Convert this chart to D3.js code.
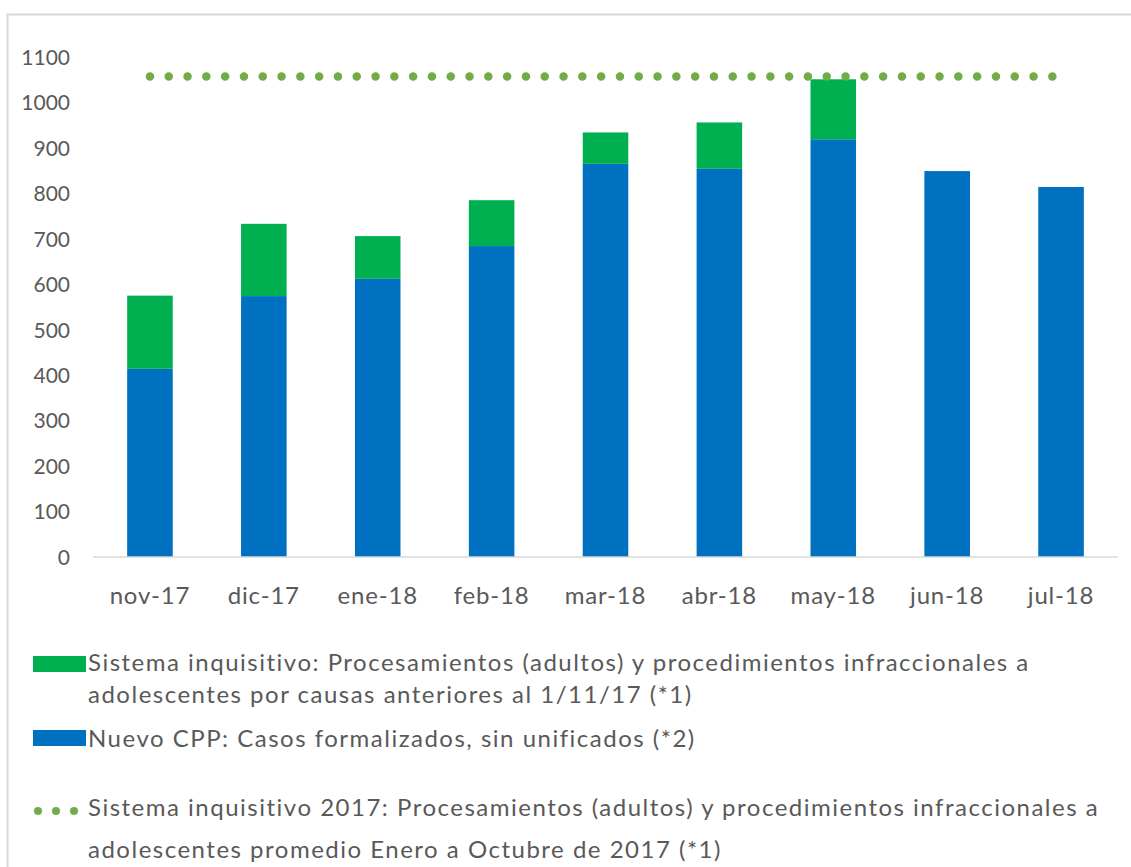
<!DOCTYPE html>
<html>
<head>
  <meta charset="utf-8">
  <script src="https://d3js.org/d3.v7.min.js"></script>
  <style>
    body { margin: 0; background: #fff; }
    text { font-family: Lato, "Open Sans", sans-serif; fill: #595959; }
  </style>
</head>
<body>
<script>
  "use strict";

  // data
  var months = ["nov-17", "dic-17", "ene-18", "feb-18", "mar-18", "abr-18", "may-18", "jun-18", "jul-18"];
  var nuevoCPP = [414, 574, 612, 684, 865, 854, 919, 849, 814];
  var inquisitivo = [161, 159, 94, 101, 69, 102, 132, 0, 0];
  var promedio2017 = 1057;
  var yTicks = [0, 100, 200, 300, 400, 500, 600, 700, 800, 900, 1000, 1100];

  var legendLabels = [
    ["Sistema inquisitivo: Procesamientos (adultos) y procedimientos infraccionales a",
     "adolescentes por causas anteriores al 1/11/17 (*1)"],
    ["Nuevo CPP: Casos formalizados, sin unificados (*2)"],
    ["Sistema inquisitivo 2017: Procesamientos (adultos) y procedimientos infraccionales a",
     "adolescentes promedio Enero a Octubre de 2017 (*1)"]
  ];

  var width = 1131, height = 867;
  var plot = { left: 93, right: 1118, top: 57, bottom: 557 };
  var blue = "#0070C0", green = "#00B050", dots = "#70AD47";

  var svg = d3.select("body").append("svg")
      .attr("width", width)
      .attr("height", height);

  // chart frame
  svg.append("rect")
      .attr("x", 7.5).attr("y", 14.5)
      .attr("width", width + 20).attr("height", height + 20)
      .attr("fill", "none")
      .attr("stroke", "#d9d9d9")
      .attr("stroke-width", 2);

  var x = d3.scaleBand()
      .domain(months)
      .range([plot.left, plot.right])
      .paddingInner(0.6)
      .paddingOuter(0.3);

  var y = d3.scaleLinear()
      .domain([0, 1100])
      .range([plot.bottom, plot.top]);

  // stacked bars
  var rows = months.map(function (m, i) {
    return { month: m, cpp: nuevoCPP[i], inq: inquisitivo[i] };
  });
  var stack = d3.stack().keys(["cpp", "inq"])(rows);
  var colors = { cpp: blue, inq: green };

  svg.append("g").selectAll("g")
    .data(stack)
    .join("g")
      .attr("fill", function (d) { return colors[d.key]; })
    .selectAll("rect")
    .data(function (d) { return d; })
    .join("rect")
      .attr("x", function (d) { return x(d.data.month); })
      .attr("width", x.bandwidth())
      .attr("y", function (d) { return y(d[1]); })
      .attr("height", function (d) { return y(d[0]) - y(d[1]); });

  // y axis labels (no line)
  var yAxis = svg.append("g")
      .attr("transform", "translate(" + 70 + ",0)")
      .call(d3.axisLeft(y).tickValues(yTicks).tickFormat(d3.format("d")).tickSize(0).tickPadding(0));
  yAxis.select(".domain").remove();
  yAxis.selectAll("text")
      .attr("dy", "0.35em")
      .style("font-size", "21px")
      .style("font-family", "Lato, sans-serif")
      .attr("fill", "#595959");

  // x axis
  var xAxis = svg.append("g")
      .attr("transform", "translate(0," + plot.bottom + ")")
      .call(d3.axisBottom(x).tickSize(0).tickPadding(30));
  xAxis.select(".domain")
      .attr("stroke", "#d9d9d9")
      .attr("stroke-width", 1.5)
      .attr("d", "M" + plot.left + ",0H" + plot.right);
  xAxis.selectAll("text")
      .style("font-size", "24px")
      .style("letter-spacing", "0.8px")
      .style("font-family", "Lato, sans-serif")
      .attr("fill", "#595959");

  // dotted average line
  var line = d3.line()
      .x(function (d) { return x(d) + x.bandwidth() / 2; })
      .y(function () { return y(promedio2017); });
  svg.append("path")
      .datum([months[0], months[months.length - 1]])
      .attr("d", line)
      .attr("fill", "none")
      .attr("stroke", dots)
      .attr("stroke-width", 8.5)
      .attr("stroke-linecap", "round")
      .attr("stroke-dasharray", "0 18.8");

  // legend
  var legend = svg.append("g").attr("class", "legend");

  legend.append("rect")
      .attr("x", 33).attr("y", 656).attr("width", 53).attr("height", 16)
      .attr("fill", green);
  legend.append("rect")
      .attr("x", 33).attr("y", 730).attr("width", 53).attr("height", 16)
      .attr("fill", blue);
  legend.selectAll("circle")
    .data([38, 56, 74])
    .join("circle")
      .attr("cx", function (d) { return d; })
      .attr("cy", 811)
      .attr("r", 4)
      .attr("fill", dots);

  var lineY = [[671, 703], [747], [816, 858]];
  legendLabels.forEach(function (lines, i) {
    lines.forEach(function (t, j) {
      legend.append("text")
          .attr("x", 88)
          .attr("y", lineY[i][j])
          .style("font-size", "24px")
          .style("letter-spacing", "1.5px")
          .text(t);
    });
  });
</script>
</body>
</html>
